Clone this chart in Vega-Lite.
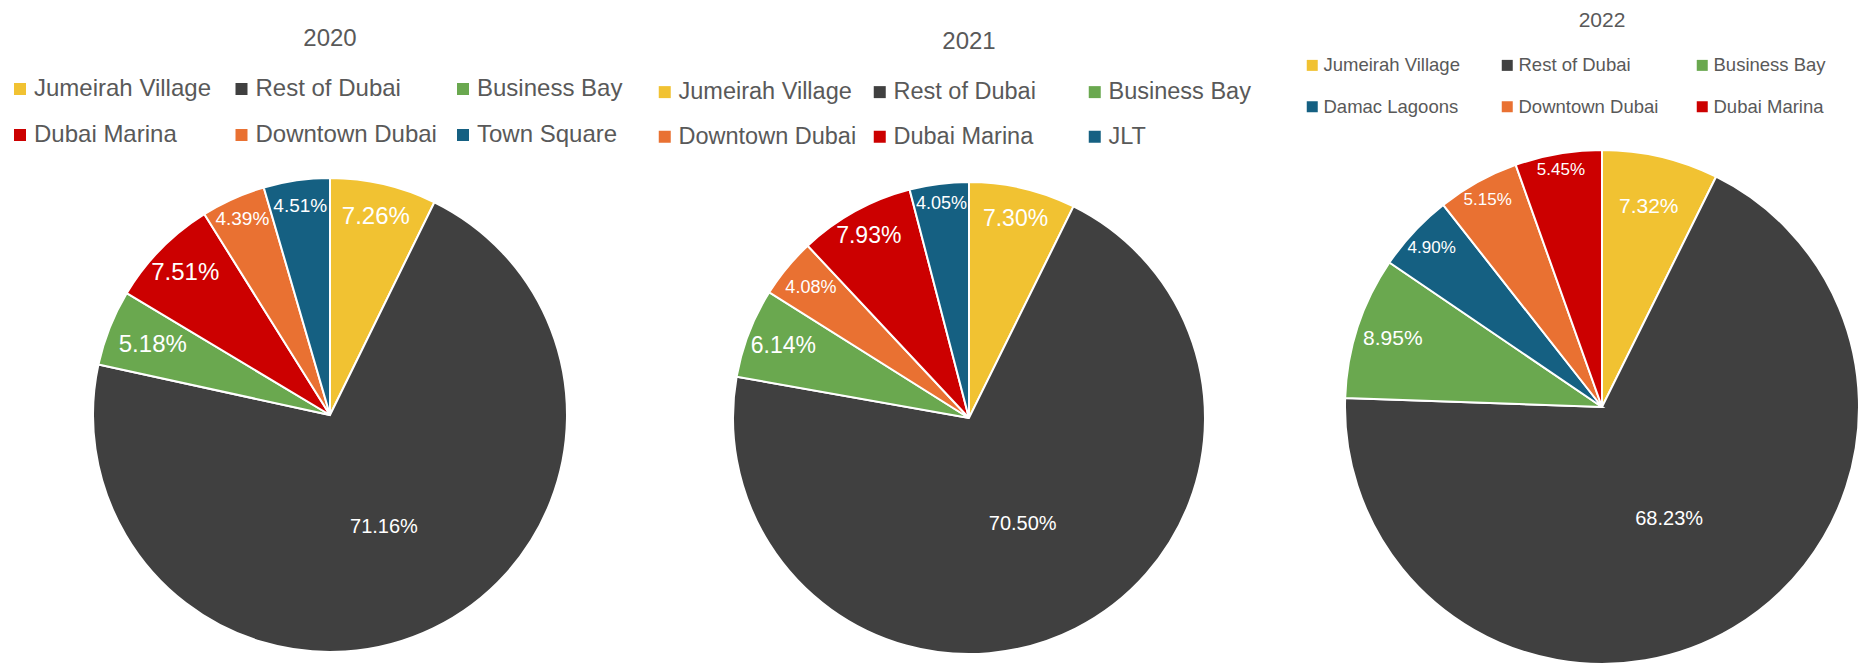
{
  "$schema": "https://vega.github.io/schema/vega-lite/v6.json",
  "padding": {"left": 8, "top": 10, "right": 0, "bottom": 0},
  "bounds": "flush",
  "spacing": 0,
  "background": "white",
  "config": {
    "view": {"stroke": null},
    "font": "Liberation Sans",
    "title": {"color": "#595959", "fontWeight": "normal", "anchor": "middle", "frame": "group", "font": "Liberation Sans"},
    "legend": {
      "orient": "none",
      "direction": "horizontal",
      "columns": 3,
      "symbolType": "square",
      "symbolStrokeWidth": 0,
      "labelColor": "#595959",
      "labelFont": "Liberation Sans",
      "gridAlign": "all",
      "padding": 0,
      "labelLimit": 400
    }
  },
  "resolve": {
    "scale": {"color": "independent", "theta": "independent", "radius": "independent", "size": "independent"},
    "legend": {"color": "independent"}
  },
  "datasets": {
    "shares": [
      {"year": 2020, "area": "Jumeirah Village", "share": 0.0726, "idx": 1},
      {"year": 2020, "area": "Rest of Dubai", "share": 0.7116, "idx": 2},
      {"year": 2020, "area": "Business Bay", "share": 0.0518, "idx": 3},
      {"year": 2020, "area": "Dubai Marina", "share": 0.0751, "idx": 4},
      {"year": 2020, "area": "Downtown Dubai", "share": 0.0439, "idx": 5},
      {"year": 2020, "area": "Town Square", "share": 0.0451, "idx": 6},
      {"year": 2021, "area": "Jumeirah Village", "share": 0.0730, "idx": 1},
      {"year": 2021, "area": "Rest of Dubai", "share": 0.7050, "idx": 2},
      {"year": 2021, "area": "Business Bay", "share": 0.0614, "idx": 3},
      {"year": 2021, "area": "Downtown Dubai", "share": 0.0408, "idx": 4},
      {"year": 2021, "area": "Dubai Marina", "share": 0.0793, "idx": 5},
      {"year": 2021, "area": "JLT", "share": 0.0405, "idx": 6},
      {"year": 2022, "area": "Jumeirah Village", "share": 0.0732, "idx": 1},
      {"year": 2022, "area": "Rest of Dubai", "share": 0.6823, "idx": 2},
      {"year": 2022, "area": "Business Bay", "share": 0.0895, "idx": 3},
      {"year": 2022, "area": "Damac Lagoons", "share": 0.0490, "idx": 4},
      {"year": 2022, "area": "Downtown Dubai", "share": 0.0515, "idx": 5},
      {"year": 2022, "area": "Dubai Marina", "share": 0.0545, "idx": 6}
    ]
  },
  "hconcat": [
    {
      "width": 550,
      "height": 486,
      "title": {"text": "2020", "fontSize": 24, "offset": 26},
      "data": {"name": "shares"},
      "transform": [{"filter": "datum.year === 2020"}],
      "encoding": {
        "theta": {"field": "share", "type": "quantitative", "stack": true},
        "order": {"field": "idx", "type": "quantitative"}
      },
      "layer": [
        {
          "mark": {"type": "arc", "outerRadius": 237, "stroke": "white", "strokeWidth": 2},
          "encoding": {
            "color": {
              "field": "area", "type": "nominal",
              "scale": {
                "domain": ["Jumeirah Village", "Rest of Dubai", "Business Bay", "Dubai Marina", "Downtown Dubai", "Town Square"],
                "range": ["#F1C232", "#404040", "#6AA84F", "#CC0000", "#E97132", "#156082"]
              },
              "legend": {"title": null, "legendX": -47, "legendY": -95, "labelFontSize": 24, "symbolSize": 144, "columnPadding": 13.5, "rowPadding": 22, "labelOffset": 2}
            }
          }
        },
        {
          "mark": {"type": "text", "color": "white", "align": "center", "baseline": "middle", "font": "Liberation Sans"},
          "encoding": {
            "radius": {"field": "share", "type": "quantitative", "scale": {"type": "linear", "domain": [0.045, 0.052, 0.073, 0.712], "range": [211, 190, 203, 124], "zero": false}},
            "size": {"field": "share", "type": "quantitative", "scale": {"type": "threshold", "domain": [0.05, 0.5], "range": [19, 24, 20]}, "legend": null},
            "text": {"field": "share", "type": "quantitative", "format": ".2%"}
          }
        }
      ]
    },
    {
      "width": 728,
      "height": 492,
      "title": {"text": "2021", "fontSize": 24, "offset": 26},
      "data": {"name": "shares"},
      "transform": [{"filter": "datum.year === 2021"}],
      "encoding": {
        "theta": {"field": "share", "type": "quantitative", "stack": true},
        "order": {"field": "idx", "type": "quantitative"}
      },
      "layer": [
        {
          "mark": {"type": "arc", "outerRadius": 236, "stroke": "white", "strokeWidth": 2},
          "encoding": {
            "color": {
              "field": "area", "type": "nominal",
              "scale": {
                "domain": ["Jumeirah Village", "Rest of Dubai", "Business Bay", "Downtown Dubai", "Dubai Marina", "JLT"],
                "range": ["#F1C232", "#404040", "#6AA84F", "#E97132", "#CC0000", "#156082"]
              },
              "legend": {"title": null, "legendX": 48, "legendY": -92, "labelFontSize": 23.5, "symbolSize": 144, "columnPadding": 11, "rowPadding": 20, "labelOffset": 2}
            }
          }
        },
        {
          "mark": {"type": "text", "color": "white", "align": "center", "baseline": "middle", "font": "Liberation Sans"},
          "encoding": {
            "radius": {"field": "share", "type": "quantitative", "scale": {"type": "linear", "domain": [0.0405, 0.0408, 0.0614, 0.08, 0.705], "range": [216, 205, 199, 208, 119], "zero": false}},
            "size": {"field": "share", "type": "quantitative", "scale": {"type": "threshold", "domain": [0.05, 0.5], "range": [18, 23, 20]}, "legend": null},
            "text": {"field": "share", "type": "quantitative", "format": ".2%"}
          }
        }
      ]
    },
    {
      "width": 538,
      "height": 470,
      "title": {"text": "2022", "fontSize": 21, "offset": 25},
      "data": {"name": "shares"},
      "transform": [{"filter": "datum.year === 2022"}],
      "encoding": {
        "theta": {"field": "share", "type": "quantitative", "stack": true},
        "order": {"field": "idx", "type": "quantitative"}
      },
      "layer": [
        {
          "mark": {"type": "arc", "outerRadius": 257, "stroke": "white", "strokeWidth": 2},
          "encoding": {
            "color": {
              "field": "area", "type": "nominal",
              "scale": {
                "domain": ["Jumeirah Village", "Rest of Dubai", "Business Bay", "Damac Lagoons", "Downtown Dubai", "Dubai Marina"],
                "range": ["#F1C232", "#404040", "#6AA84F", "#156082", "#E97132", "#CC0000"]
              },
              "legend": {"title": null, "legendX": -30, "legendY": -116, "labelFontSize": 18.5, "symbolSize": 121, "columnPadding": 34, "rowPadding": 22.5, "labelOffset": 2}
            }
          }
        },
        {
          "mark": {"type": "text", "color": "white", "align": "center", "baseline": "middle", "font": "Liberation Sans"},
          "encoding": {
            "radius": {"field": "share", "type": "quantitative", "scale": {"type": "linear", "domain": [0.049, 0.0545, 0.0732, 0.0895, 0.6823], "range": [233, 241, 205, 220, 131], "zero": false}},
            "size": {"field": "share", "type": "quantitative", "scale": {"type": "threshold", "domain": [0.06, 0.5], "range": [17, 21, 20]}, "legend": null},
            "text": {"field": "share", "type": "quantitative", "format": ".2%"}
          }
        }
      ]
    }
  ]
}
